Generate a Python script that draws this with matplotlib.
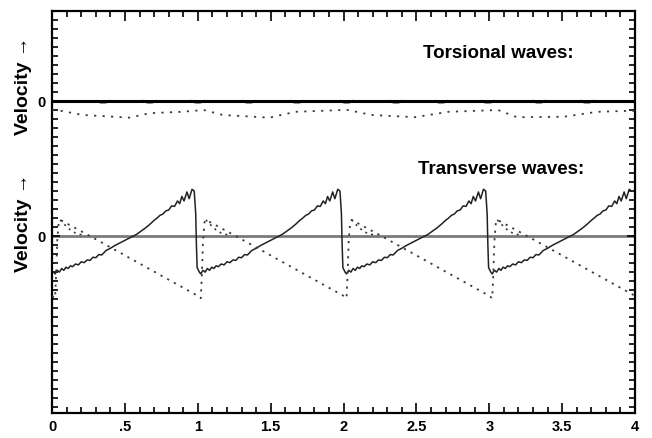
import numpy as np
import matplotlib
matplotlib.use("Agg")
import matplotlib.pyplot as plt
from matplotlib.ticker import MultipleLocator

plt.rcParams['font.family'] = ['Liberation Sans', 'DejaVu Sans']
plt.rcParams['font.weight'] = 'bold'

# transverse waves: one period of each trace (phase in the period, velocity)
solid_phase = [0.010, 0.020, 0.035, 0.050, 0.065, 0.080, 0.095, 0.110, 0.125, 0.140,
               0.160, 0.180, 0.200, 0.220, 0.240, 0.260, 0.280, 0.300, 0.320, 0.340,
               0.370, 0.400, 0.430, 0.460, 0.490, 0.520, 0.555, 0.580, 0.610, 0.640,
               0.670, 0.700, 0.720, 0.740, 0.760, 0.780, 0.800, 0.820, 0.840, 0.860,
               0.875, 0.890, 0.905, 0.925, 0.940, 0.960, 0.975, 0.985, 0.990, 0.995]
solid_vel = [-0.80, -0.84, -0.76, -0.80, -0.72, -0.76, -0.69, -0.72, -0.66, -0.68,
             -0.62, -0.64, -0.57, -0.59, -0.53, -0.54, -0.47, -0.48, -0.41, -0.42,
             -0.32, -0.27, -0.21, -0.16, -0.11, -0.06, 0.00, 0.04, 0.11, 0.18,
             0.26, 0.35, 0.40, 0.46, 0.49, 0.56, 0.58, 0.67, 0.66, 0.78,
             0.72, 0.88, 0.78, 0.98, 0.83, 1.04, 1.00, 0.50, -0.20, -0.70]

dot_phase = [0.000, 0.020, 0.028, 0.035, 0.045, 0.055, 0.260, 0.500, 0.750, 0.990]
dot_vel = [-1.33, -1.38, -0.80, -0.10, 0.30, 0.36, 0.00, -0.43, -0.88, -1.31]

branch_phase = [0.055, 0.090, 0.130, 0.170, 0.220]
branch_vel = [0.36, 0.24, 0.12, 0.05, 0.02]

cycle_starts = [0, 1, 2, 3]

# torsional waves (offset by 3 on the shared velocity axis)
tors_zero = 3.0
tors_dip_x = [0.35, 0.67, 1.00, 1.35, 1.68, 2.02, 2.36, 2.67, 2.99, 3.34, 3.67]
tors_dip_depth = 0.04
tors_dot_x = [0.00, 0.03, 0.21, 0.53, 0.67, 0.89, 1.04, 1.17, 1.49, 1.67,
              1.99, 2.03, 2.19, 2.49, 2.72, 3.06, 3.19, 3.51, 3.74, 3.94, 4.00]
tors_dot_vel = [2.81, 2.80, 2.69, 2.63, 2.73, 2.76, 2.80, 2.69, 2.63, 2.76,
                2.80, 2.80, 2.69, 2.64, 2.76, 2.80, 2.64, 2.65, 2.76, 2.78, 2.78]

x_ticks = [0, 0.5, 1, 1.5, 2, 2.5, 3, 3.5, 4]
x_labels = ['0', '.5', '1', '1.5', '2', '2.5', '3', '3.5', '4']


def tile(phase, vel, starts):
    xs = np.concatenate([c + np.asarray(phase) for c in starts])
    ys = np.concatenate([np.asarray(vel) for c in starts])
    return xs, ys


fig = plt.figure(figsize=(6.52, 4.38), dpi=100)
ax = fig.add_axes([0.080, 0.057, 0.894, 0.918])

# zero lines
ax.axhline(0, color='#7a7a7a', lw=2.0, zorder=1)

# torsional solid trace: flat line with small grey dips
for c in tors_dip_x:
    ax.plot([c - 0.04, c - 0.015, c + 0.015, c + 0.04],
            [tors_zero, tors_zero - tors_dip_depth, tors_zero - tors_dip_depth, tors_zero],
            color='#8a8a8a', lw=1.6, zorder=2)
ax.plot([0, 4], [tors_zero, tors_zero], color='black', lw=2.2, zorder=3)
ax.plot(tors_dot_x, tors_dot_vel, color='#3a3a3a', lw=1.3,
        linestyle=(0, (1.2, 3.5)), zorder=3)

# transverse traces
sx, sy = tile(solid_phase, solid_vel, cycle_starts)
keep = sx <= 3.978
ax.plot(sx[keep], sy[keep], color='#222222', lw=1.1, zorder=3)

dx, dy = tile(dot_phase, dot_vel, cycle_starts)
ax.plot(dx, dy, color='#3a3a3a', lw=1.3, linestyle=(0, (1.2, 3.0)), zorder=3)

for c in cycle_starts:
    ax.plot(c + np.asarray(branch_phase), branch_vel, color='#3a3a3a', lw=1.2,
            linestyle=(0, (1.2, 2.5)), zorder=3)

ax.set_xlim(0, 4)
ax.set_ylim(-3.93, 5.0)

ax.set_xticks(x_ticks)
ax.set_xticklabels(x_labels)
ax.xaxis.set_minor_locator(MultipleLocator(0.1))
ax.set_yticks([0, tors_zero])
ax.set_yticklabels(['0', '0'])
ax.yaxis.set_minor_locator(MultipleLocator(0.2))
ax.tick_params(which='both', direction='in', top=True, right=True, width=1.2)
ax.tick_params(which='major', length=7, labelsize=10.5, pad=5)
ax.tick_params(which='minor', length=4)
ax.tick_params(axis='y', which='major', length=6)
for lab in ax.get_xticklabels() + ax.get_yticklabels():
    lab.set_fontweight('bold')
for sp in ax.spines.values():
    sp.set_linewidth(1.6)

ax.text(3.06, 4.05, 'Torsional waves:', ha='center', va='center', fontsize=13.5,
        fontweight='bold')
ax.text(3.08, 1.47, 'Transverse waves:', ha='center', va='center', fontsize=13.5,
        fontweight='bold')

fig.text(0.036, 1 - 86 / 438, 'Velocity \u2192', rotation=90, ha='center', va='center',
         fontsize=14, fontweight='bold')
fig.text(0.036, 1 - 223 / 438, 'Velocity \u2192', rotation=90, ha='center', va='center',
         fontsize=14, fontweight='bold')

fig.savefig('out.png', dpi=100)
